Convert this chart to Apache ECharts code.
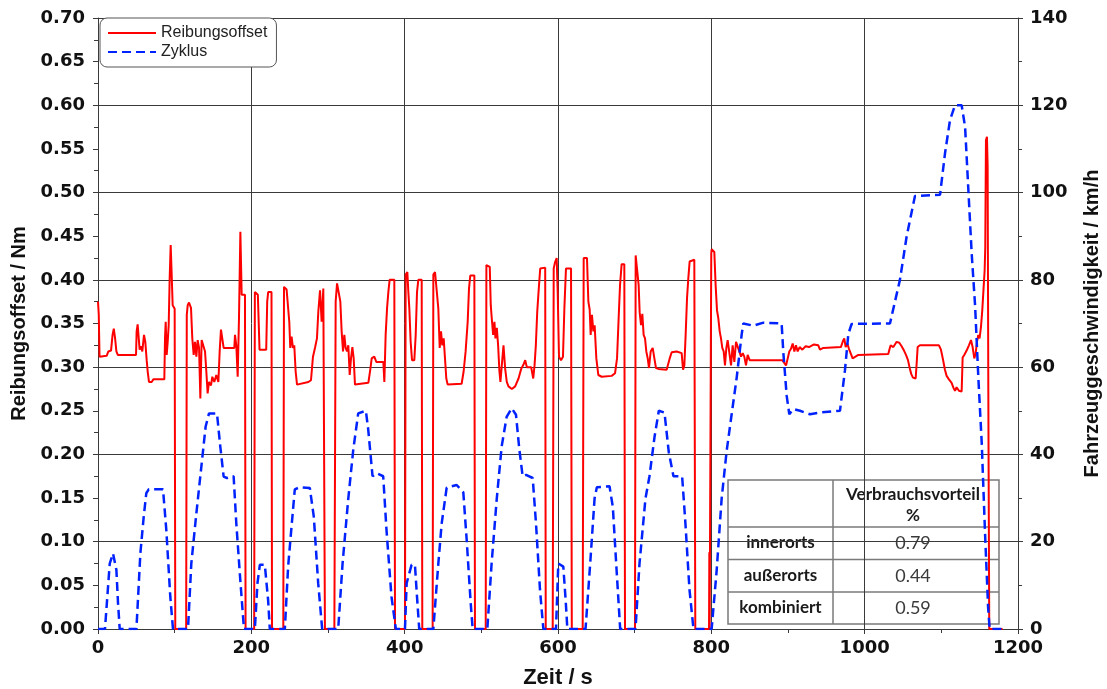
<!DOCTYPE html>
<html><head><meta charset="utf-8">
<script src="https://cdn.jsdelivr.net/npm/echarts@6/dist/echarts.min.js"></script>
<style>html,body{margin:0;padding:0;background:#fff}#c{width:1107px;height:689px}</style>
</head><body><div id="c"></div>
<script>
// ---- data ----
const seriesNames = ['Reibungsoffset', 'Zyklus'];
const xRange = [0, 1200, 200];          // Zeit / s
const leftRange = [0, 0.70, 0.05];      // Reibungsoffset / Nm
const rightRange = [0, 140, 20];        // km/h

// Reibungsoffset [t (s), Nm]
const reibungsoffset = [
[0,0.375],[1,0.36],[2,0.312],[11.3,0.313],[13.5,0.318],[17,0.319],[19,0.337],[20.6,0.344],[22.3,0.333],[24,0.318],[25.8,0.314],[49.6,0.314],[50.4,0.341],[51.7,0.349],[53,0.348],[54.3,0.32],[56,0.324],[57.8,0.318],[60,0.337],[61.7,0.329],[63.5,0.308],[64.8,0.295],[66.5,0.283],[70,0.283],[72.2,0.286],[86.5,0.286],[87.4,0.333],[88.3,0.352],[89.6,0.314],[90.9,0.329],[92.2,0.348],[93.5,0.402],[94.8,0.44],[96.1,0.406],[97.4,0.371],[100,0.367],[100.8,0],
[115,0],[115.8,0.36],[117,0.371],[118.7,0.374],[121.3,0.368],[123,0.333],[124.8,0.314],[126.5,0.329],[128.3,0.312],[130,0.331],[131.8,0.322],[133.5,0.264],[135.2,0.331],[137.4,0.329],[139.6,0.318],[141.3,0.295],[143,0.27],[144.8,0.283],[147.4,0.279],[149.1,0.289],[151.7,0.283],[154.3,0.291],[157,0.283],[158.7,0.318],[160.4,0.343],[162.2,0.342],[163.9,0.322],[177.8,0.322],[178.7,0.337],[180.4,0.325],[182.2,0.289],[183.9,0.356],[185.7,0.455],[187.4,0.383],[191.7,0.383],[192.5,0],
[203.7,0],[204.6,0.386],[206.8,0.388],[208.5,0.383],[209.4,0.357],[210.7,0.32],[219.4,0.32],[220.7,0.375],[222,0.386],[226.3,0.386],[227,0],
[241.7,0],[242.6,0.392],[246,0.389],[248.2,0.387],[249.5,0.352],[250.8,0.322],[252.5,0.335],[254.3,0.322],[256,0.325],[257.8,0.295],[259.6,0.28],[274.4,0.283],[277.8,0.285],[280.4,0.312],[283,0.322],[285.6,0.333],[287.4,0.364],[289.6,0.388],[291.7,0.352],[293.9,0.39],[295.2,0.39],[296,0],
[308.3,0],[310,0.375],[311.8,0.396],[314.4,0.398],[316.1,0.375],[317.8,0.341],[319.6,0.318],[321.3,0.337],[323,0.322],[324.8,0.318],[326.5,0.325],[328.3,0.291],[330,0.31],[331.8,0.323],[333.5,0.31],[335.2,0.28],[337.4,0.281],[352.6,0.282],[354.8,0.295],[357,0.31],[360.4,0.312],[363,0.306],[372.2,0.306],[373.5,0.283],[375.2,0.337],[377,0.367],[378.7,0.386],[380.4,0.40],[386.5,0.40],[387.4,0],
[400.4,0],[401.3,0.406],[403.5,0.409],[404.8,0.386],[406.1,0.367],[407.8,0.329],[409.6,0.308],[412.6,0.308],[414.4,0.337],[416.1,0.386],[417.8,0.40],[422.2,0.40],[423,0],
[436.5,0],[437.4,0.406],[439.6,0.409],[442.2,0.409],[443.9,0.367],[445.7,0.322],[447.4,0.341],[449.1,0.325],[450.9,0.333],[452.6,0.31],[454.3,0.287],[456.1,0.28],[474.3,0.281],[476.9,0.295],[479.5,0.318],[482.2,0.352],[483.9,0.39],[485.6,0.405],[490.9,0.405],[491.7,0],
[505.7,0],[506.6,0.417],[509.2,0.419],[511,0.415],[512.3,0.371],[513.6,0.356],[515.4,0.337],[517.1,0.352],[518.4,0.333],[520.2,0.345],[521.9,0.325],[523.6,0.295],[524.9,0.283],[526.7,0.302],[528.9,0.325],[531.1,0.298],[533.2,0.283],[535.4,0.278],[539.8,0.275],[544.1,0.278],[548.5,0.287],[552,0.298],[555,0.303],[557.2,0.308],[559.4,0.30],[565,0.30],[567.7,0.287],[569.4,0.302],[571.1,0.325],[572.9,0.363],[574.6,0.386],[576.8,0.413],[583.3,0.414],[584,0],
[593.1,0],[594.4,0.413],[596.1,0.42],[598.3,0.425],[599.6,0.386],[601.3,0.312],[603.9,0.308],[606.5,0.312],[608.3,0.367],[610.4,0.413],[617,0.413],[618,0],
[632.2,0],[633.5,0.425],[637.8,0.425],[639.6,0.375],[641.3,0.366],[642.6,0.337],[644.3,0.36],[646.1,0.341],[647.8,0.348],[650,0.31],[652.6,0.291],[657,0.289],[670,0.290],[674.4,0.293],[677,0.31],[679.1,0.356],[680.9,0.394],[683,0.418],[686.5,0.418],[687.4,0],
[700.4,0],[701.3,0.428],[703.9,0.43],[705.2,0.394],[706.5,0.363],[708.3,0.348],[710,0.361],[711.7,0.337],[713.5,0.333],[715.2,0.318],[717,0.31],[718.7,0.299],[720.9,0.318],[723.5,0.322],[725.7,0.31],[727.8,0.299],[730.9,0.298],[741.7,0.297],[743.9,0.295],[745.7,0.31],[748.3,0.317],[754.8,0.318],[761.3,0.316],[763.1,0.297],[764.8,0.302],[766.5,0.337],[768.3,0.379],[770,0.402],[771.7,0.421],[773.5,0.423],[777.8,0.423],[779.1,0],
[797,0],[797.4,0.088],[797.8,0],[799.3,0],[799.9,0.43],[800.4,0.435],[803.9,0.432],[805.6,0.394],[807.4,0.365],[809.1,0.356],[810.9,0.341],[812.6,0.333],[814.3,0.322],[816.1,0.318],[817.8,0.302],[819.6,0.322],[821.3,0.331],[823.5,0.331],[825.7,0.302],[827.8,0.325],[830,0.306],[832.2,0.329],[834.3,0.331],[836.5,0.318],[838.7,0.312],[840.9,0.316],[843,0.312],[845.2,0.302],[847.4,0.314],[850,0.308],[892.6,0.308],[895.2,0.306],[897.4,0.302],[899.6,0.31],[901.7,0.318],[903.9,0.321],[906.1,0.327],[908.3,0.318],[910.4,0.325],[912.6,0.318],[915.2,0.323],[918.7,0.32],[923,0.324],[927.4,0.323],[933.9,0.326],[939.5,0.325],[941.7,0.32],[946,0.322],[969,0.323],[971.7,0.33],[973.4,0.333],[975.2,0.323],[977.4,0.327],[979.5,0.321],[982.1,0.319],[984.3,0.31],[986.5,0.312],[991.7,0.314],[1030.8,0.315],[1032.2,0.32],[1033.9,0.325],[1037.4,0.323],[1041.7,0.329],[1045.2,0.328],[1048.2,0.324],[1051.3,0.319],[1053.9,0.314],[1056.5,0.308],[1058.7,0.299],[1060.8,0.292],[1063,0.288],[1066.5,0.287],[1067.8,0.304],[1069.1,0.323],[1072.1,0.325],[1096.9,0.325],[1099.5,0.32],[1102.1,0.309],[1104.7,0.297],[1106.9,0.29],[1109.9,0.286],[1113.4,0.282],[1116,0.276],[1117.8,0.273],[1119.9,0.277],[1123,0.273],[1126.5,0.272],[1127.8,0.311],[1129.9,0.314],[1133,0.319],[1136,0.325],[1138.7,0.331],[1140.8,0.323],[1143,0.31],[1144.8,0.316],[1146.5,0.329],[1148.2,0.337],[1149.9,0.333],[1151.7,0.346],[1153.4,0.365],[1155.2,0.392],[1156.5,0.411],[1157.3,0.437],[1158.2,0.56],[1159.5,0.564],[1160.4,0.53],[1161.3,0.27],[1161.7,0.18],[1162.5,0],[1180,0]
];

// Zyklus [t (s), km/h]
const zyklus = [
[0,0],[9.1,0],[15.3,15],[19.6,17.3],[24,13.5],[26.1,6],[28.3,0],
[50.1,0],[55.3,17.4],[59.6,25.7],[63,31.1],[66.1,32],[84.8,32],[89.1,22.7],[94.3,7.4],[97.8,0],
[117.4,0],[121.7,15],[128.3,26.5],[134.8,37.2],[140.4,46.4],[144.8,49.4],[155.2,49.4],[159.5,41.8],[163.9,34.9],[168.2,34.6],[176.9,35],[180.4,24.2],[185.6,11.2],[190.4,0],
[204.6,0],[208,10.5],[211.1,14.7],[217.6,14.7],[221.9,6.6],[224.1,0],
[243.7,0],[248,14.3],[252.4,23.4],[256.7,32],[263.3,32.5],[276.3,32.3],[281.5,25.7],[287.2,10.5],[292.4,0],
[313.3,0],[319,15],[326.3,29.6],[332.9,41],[339.4,49.4],[349.4,50],[352.4,45.8],[358.1,35],[363.3,35.7],[372,35],[376.3,22.7],[382.8,7.4],[388.5,0],
[400.4,0],[402.6,10.5],[409,14.7],[413.4,14.7],[416.4,6.6],[419,0],
[437.4,0],[443.9,15],[448.3,24.2],[454.8,32.4],[467.8,33],[476.5,31.3],[480.9,20.4],[486.1,6],[488.7,0],
[507.8,0],[513.4,15],[520,29.6],[526.5,41.8],[533,48.6],[539.6,50.6],[545.2,49.1],[549.6,41.1],[553.9,35],[558.3,35.3],[567,34.6],[571.3,24.2],[576.5,9],[580.9,0],
[597.4,0],[600.4,15],[606.9,14.3],[610,6.6],[612.2,0],
[635.9,0],[642,15],[647.7,29.9],[650.7,32.5],[667.2,32.7],[671.5,28],[675.9,15],[681.1,0],
[701.1,0],[706.3,15],[714.1,29.9],[719.3,35],[725.9,44],[731.5,50],[738.9,49.6],[744.5,40.5],[750.6,35],[761.9,35],[766.2,24.2],[771.5,9],[776.7,0],
[800.4,0],[806.9,13.3],[813.5,30],[820,40.8],[826.5,49.2],[833,57.5],[839.6,67.5],[841.7,70],[855,69.5],[868,70.2],[891.7,70],[893.9,63.4],[898.3,53.4],[901.7,49.2],[906.9,50.4],[915.6,50],[928.7,49.2],[941.7,49.6],[967.8,50],[974.3,59.3],[978.7,67.6],[983,69.9],[1033,70],[1046,80],[1054.8,90],[1065.6,99.2],[1098.3,99.5],[1104.8,109],[1111.3,116.6],[1117.8,120],[1126.5,120],[1131,115],[1135.2,100.8],[1139.6,86],[1144,74.2],[1148.3,57.5],[1152.7,42.6],[1157,22],[1161,5],[1163,0],[1180,0]
];

// table
const tableHeader = ['Verbrauchsvorteil', '%'];
const tableRowLabels = ['innerorts', 'außerorts', 'kombiniert'];
const tableValues = ['0.79', '0.44', '0.59'];

// ---- chart ----
const chart = echarts.init(document.getElementById('c'), null, {renderer: 'canvas'});
const axisCol = '#3a3a3a';
const labelFont = {fontFamily: 'DejaVu Sans', fontWeight: 'bold', fontSize: 18, color: '#111'};
const titleFont = {fontFamily: 'Liberation Sans', fontWeight: 'bold', fontSize: 20, color: '#111'};

// table graphic
const tb = {x: 728, y: 480, w: 271, h: 144, colX: 833, rowY: [527, 559.5, 592]};
const tableEls = [
  {type: 'rect', shape: {x: tb.x, y: tb.y, width: tb.w, height: tb.h}, style: {fill: '#fff', stroke: '#7a7a7a', lineWidth: 1.5}},
  {type: 'line', shape: {x1: tb.colX, y1: tb.y, x2: tb.colX, y2: tb.y + tb.h}, style: {stroke: '#7a7a7a', lineWidth: 1.5}}
];
tb.rowY.forEach(y => tableEls.push({type: 'line', shape: {x1: tb.x, y1: y, x2: tb.x + tb.w, y2: y}, style: {stroke: '#7a7a7a', lineWidth: 1.5}}));
const c1 = (tb.x + tb.colX) / 2, c2 = (tb.colX + tb.x + tb.w) / 2;
const hdrY = [495, 516];
const txt = (t, x, y, font, fill) => ({type: 'text', x: x, y: y, style: {text: t, font: font, fill: fill, align: 'center', verticalAlign: 'middle', textAlign: 'center', textVerticalAlign: 'middle'}});
tableHeader.forEach((t, i) => tableEls.push(txt(t, c2 - 3, hdrY[i], "bold 17px Lato", '#1a1a1a')));
const rowMid = [543, 575.75, 608];
tableRowLabels.forEach((t, i) => {
  tableEls.push(txt(t, c1, rowMid[i], "bold 17px Lato", '#1a1a1a'));
  tableEls.push(txt(tableValues[i], c2 - 3, rowMid[i], "18px Lato", '#3a3a3a'));
});

chart.setOption({
  animation: false,
  backgroundColor: '#fff',
  grid: {left: 98, right: 89, top: 18, bottom: 60, containLabel: false, outerBoundsMode: 'none'},
  legend: {
    data: seriesNames, orient: 'vertical', left: 100, top: 18,
    padding: [7, 9, 7, 7], itemGap: 3, itemWidth: 48, itemHeight: 14,
    borderColor: '#555', borderWidth: 1, borderRadius: 7, backgroundColor: '#fff',
    itemStyle: {opacity: 0, borderWidth: 0},
    textStyle: {fontFamily: 'Liberation Sans', fontSize: 16, color: '#222', lineHeight: 16},
    z: 50
  },
  xAxis: {
    type: 'value', min: xRange[0], max: xRange[1], interval: xRange[2],
    name: 'Zeit / s', nameLocation: 'middle', nameGap: 38,
    nameTextStyle: Object.assign({}, titleFont, {fontSize: 22}),
    axisLine: {show: true, lineStyle: {color: axisCol, width: 1}},
    axisTick: {show: true, length: 5, lineStyle: {color: axisCol}},
    minorTick: {show: true, splitNumber: 2, length: 4, lineStyle: {color: axisCol}},
    axisLabel: Object.assign({margin: 10, formatter: v => String(v)}, labelFont),
    splitLine: {show: true, lineStyle: {color: axisCol, width: 1}}
  },
  yAxis: [{
    type: 'value', min: leftRange[0], max: leftRange[1], interval: leftRange[2], position: 'left',
    name: 'Reibungsoffset / Nm', nameLocation: 'middle', nameGap: 66, nameRotate: 90,
    nameTextStyle: titleFont,
    axisLine: {show: true, lineStyle: {color: axisCol, width: 1}},
    axisTick: {show: true, length: 5, lineStyle: {color: axisCol}},
    minorTick: {show: true, splitNumber: 2, length: 4, lineStyle: {color: axisCol}},
    axisLabel: Object.assign({margin: 13, formatter: v => v.toFixed(2)}, labelFont),
    splitLine: {show: false}
  }, {
    type: 'value', min: rightRange[0], max: rightRange[1], interval: rightRange[2], position: 'right',
    name: 'Fahrzeuggeschwindigkeit / km/h', nameLocation: 'middle', nameGap: 64, nameRotate: 90,
    nameTextStyle: titleFont,
    axisLine: {show: true, lineStyle: {color: axisCol, width: 1}},
    axisTick: {show: true, length: 5, lineStyle: {color: axisCol}},
    minorTick: {show: true, splitNumber: 2, length: 4, lineStyle: {color: axisCol}},
    axisLabel: Object.assign({margin: 12}, labelFont),
    splitLine: {show: true, lineStyle: {color: axisCol, width: 1}}
  }],
  series: [{
    name: seriesNames[0], type: 'line', yAxisIndex: 0, data: reibungsoffset,
    symbol: 'none', lineStyle: {color: '#ff0000', width: 2}, itemStyle: {color: '#ff0000'}, z: 3
  }, {
    name: seriesNames[1], type: 'line', yAxisIndex: 1, data: zyklus,
    symbol: 'none', lineStyle: {color: '#0022ff', width: 2.5, type: [9, 5]}, itemStyle: {color: '#0022ff'}, z: 4
  }],
  graphic: [{type: 'group', z: 100, children: tableEls}]
});
</script></body></html>
